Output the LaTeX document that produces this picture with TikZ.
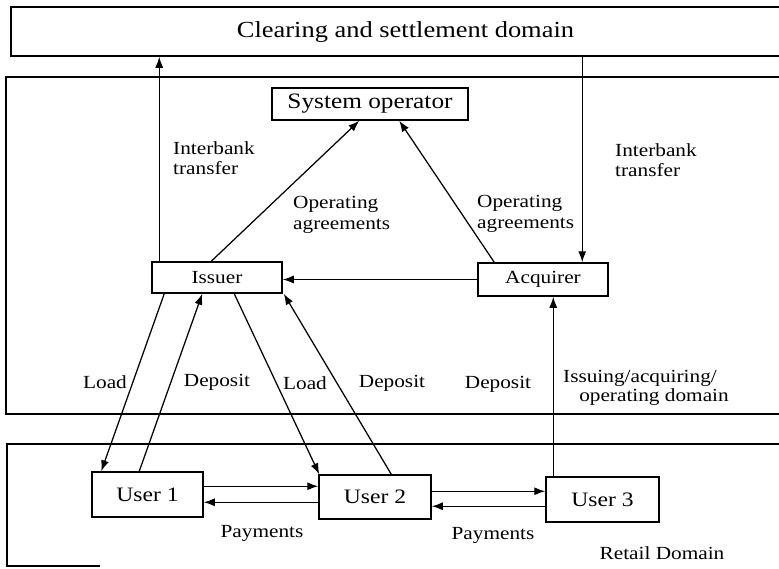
\documentclass[tikz,border=0pt]{standalone}
\usepackage{fontspec}
\setmainfont{Liberation Serif}[FakeStretch=1.15]
\usetikzlibrary{arrows.meta,calc}
\begin{document}
\begin{tikzpicture}[x=1pt,y=-1pt,
  lbl/.style={font=\fontsize{18.5}{20.5}\selectfont, inner sep=0pt},
  box/.style={draw, line width=1.5pt, inner sep=0pt, font=\fontsize{18.5}{20}\selectfont},
  userbox/.style={box, font=\fontsize{20.5}{22}\selectfont},
  arr/.style={-{Latex[length=11pt,width=8pt]}, line width=1.25pt},
  dom/.style={line width=1.4pt}]
\useasboundingbox (0,0) rectangle (779,568);

% domains
\node[box, minimum width=789pt, minimum height=49pt, font=\fontsize{23}{26}\selectfont] (clr) at (405.5,31.5) {Clearing and settlement domain};
\draw[dom] (779,77) -- (6,77) -- (6,414) -- (779,414);
\draw[dom] (779,444) -- (7,444) -- (7,566) -- (100,566);

% participants
\node[box, minimum width=196pt, minimum height=32pt, font=\fontsize{22}{24}\selectfont] (sys) at (370,104) {System operator};
\node[box, minimum width=130pt, minimum height=31pt] (iss) at (217,277.5) {Issuer};
\node[box, minimum width=130pt, minimum height=33pt] (acq) at (543,279.5) {Acquirer};
\node[userbox, minimum width=111pt, minimum height=45pt] (u1) at (147.5,494.5) {User 1};
\node[userbox, minimum width=112pt, minimum height=44pt] (u2) at (375,497) {User 2};
\node[userbox, minimum width=113pt, minimum height=45pt] (u3) at (602.5,499.5) {User 3};

% interbank transfers
\coordinate (ibL) at ($(iss.north west)+(8,0)$);
\draw[arr] (ibL) -- (ibL |- clr.south);
\coordinate (ibR) at ($(acq.north west)+(105,0)$);
\draw[arr] (ibR |- clr.south) -- (ibR);

% operating agreements
\draw[arr] ($(iss.north west)+(60,0)$) -- ($(sys.south west)+(88,0)$);
\draw[arr] ($(acq.north west)+(17,0)$) -- ($(sys.south west)+(128,0)$);
\draw[arr] (acq.west) -- (acq.west -| iss.east);

% loads and deposits
\draw[arr] ($(iss.south west)+(13,0)$) -- ($(u1.north west)+(10,0)$);
\draw[arr] ($(u1.north west)+(48,0)$) -- ($(iss.south west)+(51,0)$);
\draw[arr] ($(iss.south west)+(83,0)$) -- ($(u2.north west)+(1,0)$);
\draw[arr] ($(u2.north west)+(73,0)$) -- ($(iss.south east)+(1,0)$);
\coordinate (ua) at ($(u3.north west)+(8,0)$);
\draw[arr] (ua) -- (ua |- acq.south);

% payments
\coordinate (p1) at ($(u1.north east)+(0,15)$);
\draw[arr] (p1) -- (p1 -| u2.west);
\coordinate (p2) at ($(u2.north west)+(0,28)$);
\draw[arr] (p2) -- (p2 -| u1.east);
\coordinate (p3) at ($(u2.north east)+(0,17)$);
\draw[arr] (p3) -- (p3 -| u3.west);
\coordinate (p4) at ($(u3.north west)+(0,30)$);
\draw[arr] (p4) -- (p4 -| u2.east);

% labels
\node[lbl, anchor=west, align=left] (ibtL) at (173,158) {Interbank\\transfer};
\node[lbl, anchor=west, align=left] (ibtR) at (615,160) {Interbank\\transfer};
\node[lbl, anchor=west, align=left] (oaL) at (293,215) {Operating\\agreements};
\node[lbl, anchor=west, align=left] (oaR) at (477,214) {Operating\\agreements};
\node[lbl] (ld1) at (105,382) {Load};
\node[lbl] (dp1) at (217,382) {Deposit};
\node[lbl] (ld2) at (305,383) {Load};
\node[lbl] (dp2) at (392,383) {Deposit};
\node[lbl] (dp3) at (498,384) {Deposit};
\node[lbl] (dom1) at (640,378) {Issuing/acquiring/};
\node[lbl] (dom2) at (654,397) {operating domain};
\node[lbl] (pay1) at (262,533) {Payments};
\node[lbl] (pay2) at (493,535) {Payments};
\node[lbl] (ret) at (662,553) {Retail Domain};
\end{tikzpicture}
\end{document}
